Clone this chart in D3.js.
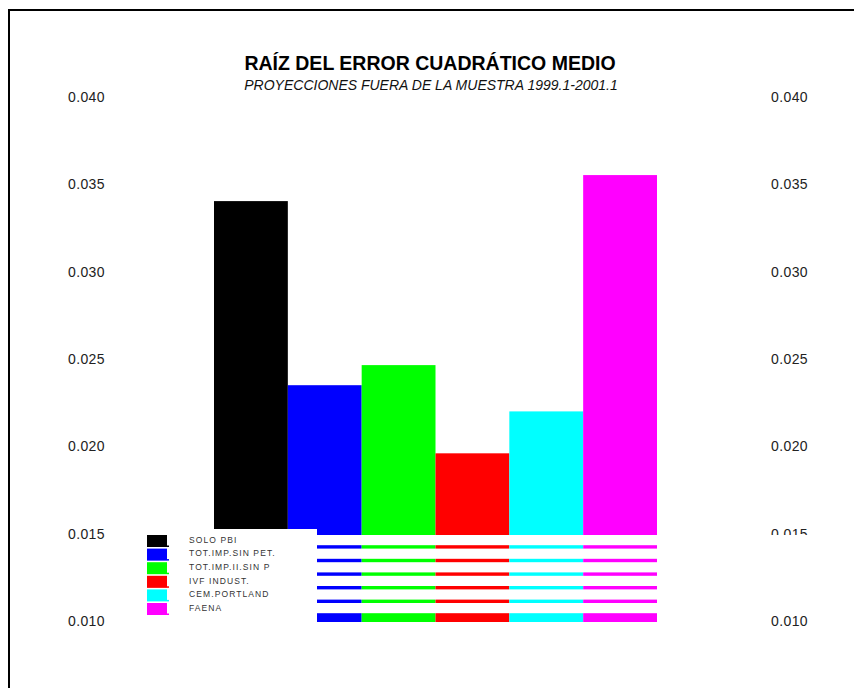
<!DOCTYPE html>
<html>
<head>
<meta charset="utf-8">
<script src="https://cdn.jsdelivr.net/npm/d3@7"></script>
<style>
html,body{margin:0;padding:0;background:#fff;}
svg{display:block;}
text{font-family:"Liberation Sans",Arial,sans-serif;}
</style>
</head>
<body>
<svg id="chart" width="854" height="688"></svg>
<script>
const categories = ["SOLO PBI", "TOT.IMP.SIN PET.", "TOT.IMP.II.SIN  P", "IVF INDUST.", "CEM.PORTLAND", "FAENA"];
const values = [0.03404, 0.0235, 0.02465, 0.0196, 0.0220, 0.03553];
const colors = ["#000000", "#0000ff", "#00ff00", "#ff0000", "#00ffff", "#ff00ff"];
const yTicks = [0.010, 0.015, 0.020, 0.025, 0.030, 0.035, 0.040];
const title = "RAÍZ DEL ERROR CUADRÁTICO MEDIO";
const subtitle = "PROYECCIONES FUERA DE LA MUESTRA 1999.1-2001.1";

const svg = d3.select("#chart");

// frame
svg.append("rect").attr("x", 9).attr("y", 10).attr("width", 900).attr("height", 900)
  .attr("fill", "none").attr("stroke", "#000").attr("stroke-width", 2);

const y = d3.scaleLinear().domain([0.010, 0.040]).range([621, 97]);
const x = d3.scaleBand().domain(categories).range([214, 657]).padding(0);
const fmt = d3.format(".3f");

// titles
svg.append("text").attr("x", 430).attr("y", 70).attr("text-anchor", "middle")
  .attr("font-size", 19.5).attr("font-weight", "bold").attr("fill", "#000").text(title);
svg.append("text").attr("x", 431).attr("y", 90).attr("text-anchor", "middle")
  .attr("font-size", 14).attr("font-style", "italic").attr("fill", "#111").text(subtitle);

// axes (labels only)
const axL = d3.axisLeft(y).tickValues(yTicks).tickFormat(fmt).tickSize(0).tickPadding(0);
const gL = svg.append("g").attr("transform", "translate(105,0)").call(axL);
gL.select(".domain").remove();
gL.selectAll("text").attr("font-size", 14).attr("fill", "#222")
  .attr("font-family", "Liberation Sans, Arial, sans-serif").attr("letter-spacing", 0.4);

const axR = d3.axisRight(y).tickValues(yTicks).tickFormat(fmt).tickSize(0).tickPadding(0);
const gR = svg.append("g").attr("transform", "translate(771,0)").call(axR);
gR.select(".domain").remove();
gR.selectAll("text").attr("font-size", 14).attr("fill", "#222")
  .attr("font-family", "Liberation Sans, Arial, sans-serif").attr("letter-spacing", 0.4);

// bars
svg.append("g").selectAll("rect").data(categories).join("rect")
  .attr("x", d => x(d))
  .attr("width", x.bandwidth())
  .attr("y", (d, i) => y(values[i]))
  .attr("height", (d, i) => y(0.010) + 1 - y(values[i]))
  .attr("fill", (d, i) => colors[i]);

// legend
const leg = svg.append("g");
leg.append("rect").attr("x", 130).attr("y", 529).attr("width", 187).attr("height", 101).attr("fill", "#fff");
const rowTop = i => 535 + i * 13.6;
leg.selectAll("rect.stripe").data(categories).join("rect").attr("class", "stripe")
  .attr("x", 317).attr("width", 540)
  .attr("y", (d, i) => rowTop(i)).attr("height", 10.2).attr("fill", "#fff");
leg.selectAll("rect.sw").data(categories).join("rect").attr("class", "sw")
  .attr("x", 147).attr("width", 20)
  .attr("y", (d, i) => rowTop(i)).attr("height", 11.5)
  .attr("fill", (d, i) => colors[i]);
leg.selectAll("rect.sw2").data(categories).join("rect").attr("class", "sw2")
  .attr("x", 147).attr("width", 22)
  .attr("y", (d, i) => rowTop(i) + 10.5).attr("height", 1.5)
  .attr("fill", (d, i) => colors[i]);
leg.selectAll("text").data(categories).join("text")
  .attr("x", 189).attr("y", (d, i) => rowTop(i) + 5.5)
  .attr("dominant-baseline", "middle")
  .attr("font-size", 8.5).attr("letter-spacing", 1.1)
  .attr("fill", "#333").text(d => d);
</script>
</body>
</html>
